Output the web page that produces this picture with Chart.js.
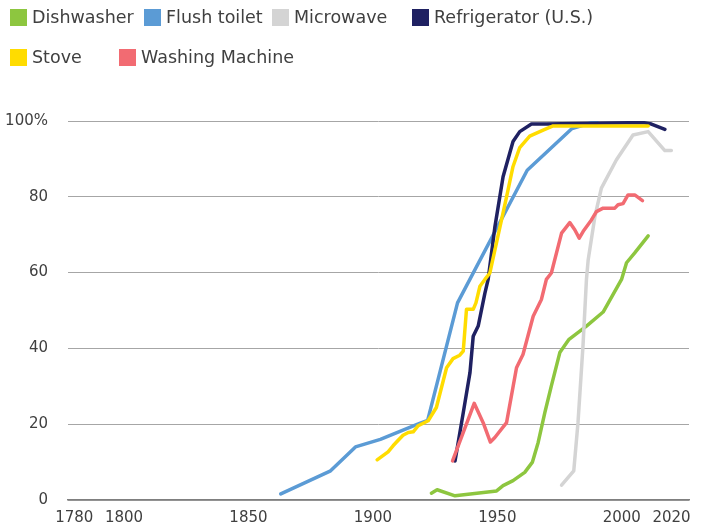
<!DOCTYPE html>
<html>
<head>
<meta charset="utf-8">
<script src="https://cdn.jsdelivr.net/npm/chart.js@4/dist/chart.umd.min.js"></script>
<style>
  html, body { margin: 0; padding: 0; background: #fff; }
  #wrap { position: relative; width: 707px; height: 529px; }
  #legend { position: absolute; left: 0; top: 0; font-family: 'DejaVu Sans', sans-serif; font-size: 17.5px; color: #404040; }
  .item { position: absolute; white-space: nowrap; }
  .box { position: absolute; left: 0; top: 0; width: 17px; height: 17px; }
  .txt { position: absolute; left: 22px; top: -2px; line-height: 21px; }
</style>
</head>
<body>
<div id="wrap">
  <canvas id="chart" width="707" height="529"></canvas>
  <div id="legend"></div>
</div>
<script>
// share of households (%) by year
var dishwasher = [[1923.5,1.8],[1925.8,2.7],[1933,1.1],[1949.7,2.4],[1952.3,3.8],[1956.3,5.1],[1961,7.3],[1964.1,10],[1966.4,15.2],[1969.1,23.1],[1971.7,30.1],[1975.1,38.9],[1978.8,42.4],[1985.8,45.9],[1992.5,49.6],[1999.9,58.2],[2001.9,62.6],[2005.2,65.2],[2010.6,69.7]];
var flushToilet = [[1863,1.6],[1883,7.7],[1893,14],[1903,16],[1918,20],[1922,21],[1934,52],[1962,87],[1980,98],[1990,100]];
var microwave = [[1975.8,3.9],[1980.7,7.7],[1982.4,20.4],[1984.4,40.6],[1985.8,58.2],[1986.5,63.4],[1989.2,74.8],[1991.8,82.3],[1997.8,89.7],[2004.5,96.3],[2010.6,97.2],[2017.3,92.2],[2019.9,92.2]];
var refrigerator = [[1933,10.3],[1936.3,23],[1939,33.6],[1940.3,43.2],[1942.3,45.9],[1945,54.6],[1946.3,58.2],[1949,72],[1952.3,85.3],[1956.3,94.6],[1959,97.2],[1963.7,99.2],[1969.6,99.2],[2008.5,99.6],[2011.9,99.2],[2017.3,97.8]];
var stove = [[1901.7,10.6],[1906.1,12.7],[1908.1,14.3],[1909.5,15.3],[1912.1,17.1],[1914.2,17.8],[1916.2,18],[1918.2,19.6],[1922.2,20.9],[1925.5,24.4],[1929.6,34.9],[1932.2,37.3],[1934.9,38.2],[1936.3,39.3],[1937.6,50.3],[1940.3,50.3],[1941.4,52],[1943,56.4],[1945,58.2],[1947,59.9],[1953.7,80],[1956.3,88],[1959,93],[1963,96],[1968.4,97.6],[1972.4,98.7],[2010.6,98.7]];
var washingMachine = [[1932,10.3],[1940.7,25.5],[1944.3,20.4],[1947.2,15.3],[1949,16.5],[1953.7,20.4],[1957.7,34.9],[1960.3,38.4],[1964.4,48.5],[1967.7,52.9],[1969.7,58.2],[1971.7,59.9],[1975.8,70.4],[1979.1,73.2],[1981.1,71.3],[1982.9,69.1],[1984.5,70.9],[1987.8,73.9],[1989.8,76.1],[1992.5,77],[1997.2,77],[1998.5,77.9],[2000.5,78.2],[2002.5,80.5],[2005.2,80.5],[2008.3,79]];

var seriesNames = ['Dishwasher', 'Flush toilet', 'Microwave', 'Refrigerator (U.S.)', 'Stove', 'Washing Machine'];
var seriesData = [dishwasher, flushToilet, microwave, refrigerator, stove, washingMachine];
var seriesColors = ['#8dc63f', '#5b9bd5', '#d4d4d4', '#1f2162', '#ffdc00', '#f26b72'];
var xTicks = [1780, 1800, 1850, 1900, 1950, 2000, 2020];
var yTicks = [0, 20, 40, 60, 80, 100];

// legend item positions (two rows like the original)
var legendPos = [[10, 9], [144, 9], [272, 9], [412, 9], [10, 49], [119, 49]];

var datasets = seriesData.map(function (pts, i) {
    return {
        label: seriesNames[i],
        data: pts.map(function (p) { return { x: p[0], y: p[1] }; }),
        borderColor: seriesColors[i],
        backgroundColor: seriesColors[i],
        borderWidth: 3.5,
        pointRadius: 0,
        tension: 0,
        fill: false,
        borderJoinStyle: 'round',
        borderCapStyle: 'round',
        order: seriesNames.length - i   // later series on top, like the original
    };
});

var ctx = document.getElementById('chart').getContext('2d');
new Chart(ctx, {
    type: 'line',
    data: { datasets: datasets },
    options: {
        responsive: false,
        animation: false,
        layout: { padding: { left: 0, right: 18, top: 121, bottom: 0 } },
        plugins: {
            legend: { display: false },
            tooltip: { enabled: false }
        },
        scales: {
            x: {
                type: 'linear',
                min: 1777.5,
                max: 2027,
                afterBuildTicks: function (scale) {
                    scale.ticks = xTicks.map(function (v) { return { value: v }; });
                },
                afterFit: function (scale) { scale.height = 28; },
                ticks: {
                    autoSkip: false,
                    maxRotation: 0,
                    padding: 9,
                    color: '#404040',
                    font: { family: 'DejaVu Sans', size: 15 },
                    callback: function (v) { return String(v); }
                },
                grid: { display: false, drawTicks: false },
                border: { display: true, color: '#7f7f7f', width: 1.5 }
            },
            y: {
                min: 0,
                max: 100,
                afterBuildTicks: function (scale) {
                    scale.ticks = yTicks.map(function (v) { return { value: v }; });
                },
                afterFit: function (scale) { scale.width = 68; },
                ticks: {
                    padding: 20,
                    color: '#404040',
                    font: { family: 'DejaVu Sans', size: 15 },
                    callback: function (v) { return v === 100 ? '100%' : String(v); }
                },
                grid: { color: '#a6a6a6', lineWidth: 1, drawTicks: false },
                border: { display: false }
            }
        }
    }
});

var legend = document.getElementById('legend');
seriesNames.forEach(function (name, i) {
    var item = document.createElement('div');
    item.className = 'item';
    item.style.left = legendPos[i][0] + 'px';
    item.style.top = legendPos[i][1] + 'px';
    var box = document.createElement('div');
    box.className = 'box';
    box.style.background = seriesColors[i];
    var txt = document.createElement('span');
    txt.className = 'txt';
    txt.textContent = name;
    item.appendChild(box);
    item.appendChild(txt);
    legend.appendChild(item);
});
</script>
</body>
</html>
